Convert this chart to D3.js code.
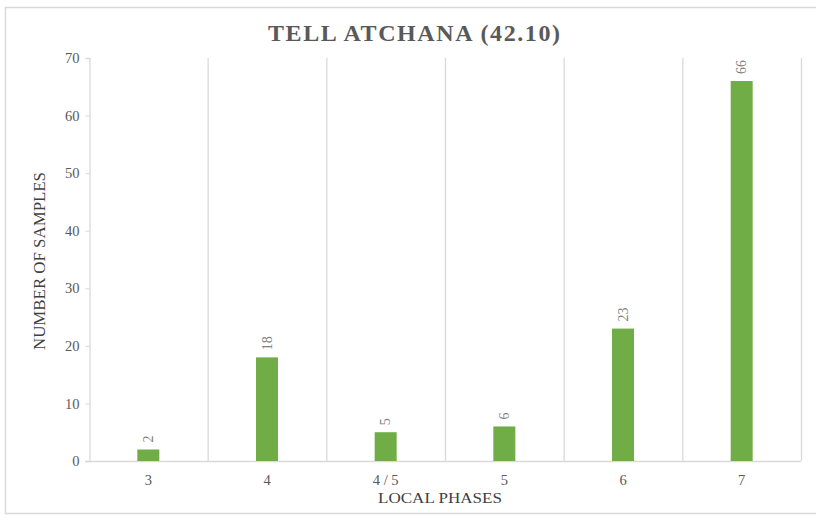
<!DOCTYPE html>
<html><head><meta charset="utf-8">
<script src="https://cdn.jsdelivr.net/npm/d3@7"></script>
<style>body{margin:0;background:#fff}svg{display:block}
svg text{font-family:"Liberation Serif","DejaVu Serif","Times New Roman",Times,serif !important;}</style>
</head><body>
<script>
const categories = ["3","4","4 / 5","5","6","7"];
const values = [2,18,5,6,23,66];
const yTicks = [0,10,20,30,40,50,60,70];

const W=816,H=515;
const svg=d3.select("body").append("svg").attr("width",W).attr("height",H);
svg.append("rect").attr("x",5.5).attr("y",7.5).attr("width",W+10).attr("height",H-9)
  .attr("fill","#fff").attr("stroke","#d9d9d9").attr("stroke-width",1.5);

const m={l:89,r:801,t:58,b:461};
const x=d3.scaleBand().domain(categories).range([m.l,m.r]).paddingInner(0).paddingOuter(0);
const y=d3.scaleLinear().domain([0,70]).range([m.b,m.t]);

// vertical gridlines (category separators)
const seps=categories.map(c=>x(c)).concat([m.r]).slice(1);
svg.append("g").selectAll("line").data(seps).join("line")
  .attr("x1",d=>d+0.5).attr("x2",d=>d+0.5).attr("y1",m.t).attr("y2",m.b)
  .attr("stroke","#d9d9d9").attr("stroke-width",1.3);

// y axis
const ya=svg.append("g").attr("transform",`translate(${m.l+0.5},0)`)
  .call(d3.axisLeft(y).tickValues(yTicks).tickSize(4).tickPadding(6));
ya.select(".domain").attr("stroke","#d9d9d9").attr("stroke-width",1.3);
ya.selectAll(".tick line").attr("stroke","#d9d9d9");
ya.selectAll("text").attr("font-size",14.5).attr("fill","#595959");

// x axis
const xa=svg.append("g").attr("transform",`translate(0,${m.b+0.5})`)
  .call(d3.axisBottom(x).tickSize(0).tickPadding(13.5));
xa.select(".domain").attr("d",`M${m.l-4},0H${m.r}`).attr("stroke","#d9d9d9").attr("stroke-width",1.3);
xa.selectAll("text").attr("font-size",14.5).attr("fill","#595959");

// bars
const bw=22;
svg.append("g").selectAll("rect").data(values).join("rect")
  .attr("x",(d,i)=>x(categories[i])+x.bandwidth()/2-bw/2)
  .attr("y",d=>y(d)).attr("width",bw).attr("height",d=>y(0)-y(d))
  .attr("fill","#70ad47");

// value labels
svg.append("g").selectAll("text").data(values).join("text")
  .attr("transform",(d,i)=>`translate(${x(categories[i])+x.bandwidth()/2+4.5},${y(d)-7}) rotate(-90)`)
  .attr("text-anchor","start")
  .attr("font-size",14).attr("fill","#7f7f7f")
  .text(d=>d);

// title
svg.append("text").attr("x",268).attr("y",41).attr("text-anchor","start")
  .attr("font-size",24).attr("font-weight","bold")
  .attr("textLength",292).attr("lengthAdjust","spacing")
  .attr("fill","#595959").text("TELL ATCHANA (42.10)");

// axis titles
svg.append("text").attr("transform","translate(45,350) rotate(-90)").attr("text-anchor","start")
  .attr("font-size",16).attr("textLength",178).attr("lengthAdjust","spacingAndGlyphs")
  .attr("fill","#404040").text("NUMBER OF SAMPLES");
svg.append("text").attr("x",378).attr("y",503).attr("text-anchor","start")
  .attr("font-size",15).attr("textLength",124).attr("lengthAdjust","spacingAndGlyphs")
  .attr("fill","#404040").text("LOCAL PHASES");
</script>
</body></html>
